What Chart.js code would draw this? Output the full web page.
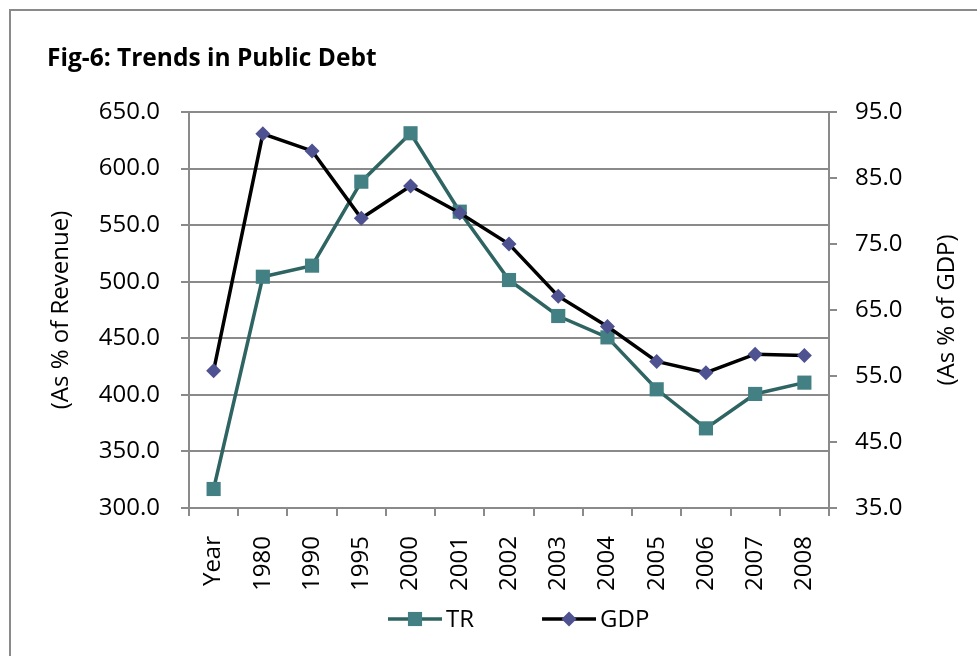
<!DOCTYPE html>
<html>
<head>
<meta charset="utf-8">
<title>Trends in Public Debt</title>
<script src="https://cdn.jsdelivr.net/npm/chart.js@4.4.1/dist/chart.umd.min.js"></script>
<style>
  html, body { margin: 0; padding: 0; background: #fff; overflow: hidden; }
  #wrap { position: relative; width: 977px; height: 656px; overflow: hidden; }
  #frame {
    position: absolute; left: 9px; top: 9px; width: 1000px; height: 700px;
    border-left: 2px solid #8a8a8a; border-top: 2px solid #8a8a8a;
  }
  #chart-debt { position: absolute; left: 0; top: 0; }
</style>
</head>
<body>
<div id="wrap">
  <div id="frame"></div>
  <canvas id="chart-debt" width="977" height="656"></canvas>
</div>
<script>
// categories along the x axis
var years = ["Year", "1980", "1990", "1995", "2000", "2001", "2002", "2003", "2004", "2005", "2006", "2007", "2008"];

// debt as % of revenue (left axis)
var trValues = [316.8, 504.4, 514.2, 588.4, 631.2, 561.9, 501.5, 469.7, 450.8, 404.9, 370.4, 400.8, 410.8];

// debt as % of GDP (right axis)
var gdpValues = [55.8, 91.7, 89.1, 78.9, 83.8, 79.7, 75.0, 67.1, 62.5, 57.2, 55.5, 58.3, 58.1];

// axis tick values
var revenueTicks = [300, 350, 400, 450, 500, 550, 600, 650];
var gdpTicks = [35, 45, 55, 65, 75, 85, 95];

var GRID = "#8a8a8a";
var tickFont = { family: "Open Sans", size: 24 };

// legend drawn as a line segment with the marker in the middle, like the series,
// plus the right axis title, which reads bottom-to-top like the left one
var lineLegend = {
  id: "lineLegend",
  afterDraw: function (chart) {
    var ctx = chart.ctx;
    var area = chart.chartArea;
    var x = area.left + 199;
    var y = area.bottom + 111;
    ctx.save();
    ctx.font = '24px "Open Sans"';
    ctx.textBaseline = "middle";
    ctx.textAlign = "left";
    chart.data.datasets.forEach(function (ds) {
      ctx.strokeStyle = ds.borderColor;
      ctx.lineWidth = ds.borderWidth;
      ctx.beginPath();
      ctx.moveTo(x, y);
      ctx.lineTo(x + 54, y);
      ctx.stroke();
      ctx.fillStyle = ds.pointBackgroundColor;
      Chart.helpers.drawPoint(ctx, {
        pointStyle: ds.pointStyle,
        radius: ds.pointRadius,
        borderWidth: 0,
        rotation: 0,
      }, x + 27, y);
      ctx.fillStyle = "#000";
      ctx.fillText(ds.label, x + 58, y + 1);
      x += 58 + ctx.measureText(ds.label).width + 68;
    });

    ctx.translate(area.right + 118, (area.top + area.bottom) / 2);
    ctx.rotate(-Math.PI / 2);
    ctx.textAlign = "center";
    ctx.fillText("(As % of GDP)", 0, 0);
    ctx.restore();
  },
};

var ctx1 = document.getElementById("chart-debt").getContext("2d");

new Chart(ctx1, {
  type: "line",
  data: {
    labels: years,
    datasets: [
      {
        label: "TR",
        data: trValues,
        yAxisID: "y",
        borderColor: "#2e6461",
        borderWidth: 3.5,
        tension: 0,
        pointStyle: "rect",
        pointRadius: 10,
        pointHoverRadius: 10,
        pointBackgroundColor: "#428084",
        pointBorderColor: "#428084",
        pointBorderWidth: 0,
        order: 2,
      },
      {
        label: "GDP",
        data: gdpValues,
        yAxisID: "y1",
        borderColor: "#000000",
        borderWidth: 3.5,
        tension: 0,
        pointStyle: "rectRot",
        pointRadius: 7.5,
        pointHoverRadius: 7.5,
        pointBackgroundColor: "#4e5290",
        pointBorderColor: "#4e5290",
        pointBorderWidth: 0,
        order: 1,
      },
    ],
  },
  options: {
    responsive: false,
    animation: false,
    layout: {
      padding: { left: 47, right: 16, top: 0, bottom: 0 },
    },
    plugins: {
      legend: { display: false },
      tooltip: { enabled: false },
      title: {
        display: true,
        text: "Fig-6: Trends in Public Debt",
        align: "start",
        color: "#000",
        font: { family: "Open Sans", size: 24.5, weight: "bold", lineHeight: 1.2 },
        padding: { top: 44, bottom: 38.6 },
      },
    },
    scales: {
      x: {
        offset: true,
        grid: {
          offset: true,
          drawOnChartArea: false,
          drawTicks: true,
          tickLength: 8,
          color: GRID,
          lineWidth: 2,
        },
        border: { display: true, color: GRID, width: 2 },
        ticks: {
          autoSkip: false,
          minRotation: 90,
          maxRotation: 90,
          padding: 20,
          color: "#000",
          font: tickFont,
        },
        afterFit: function (scale) {
          scale.height = 148;
        },
      },
      y: {
        position: "left",
        min: 300,
        max: 650,
        afterBuildTicks: function (scale) {
          scale.ticks = revenueTicks.map(function (v) { return { value: v }; });
        },
        ticks: {
          padding: 21,
          color: "#000",
          font: tickFont,
          callback: function (v) { return Number(v).toFixed(1); },
        },
        grid: { color: GRID, lineWidth: 2, tickLength: 8 },
        border: { display: true, color: GRID, width: 2 },
        title: {
          display: true,
          text: "(As % of Revenue)",
          color: "#000",
          padding: 0,
          font: tickFont,
        },
        afterFit: function (scale) {
          scale.width = 142;
        },
      },
      y1: {
        position: "right",
        min: 35,
        max: 95,
        afterBuildTicks: function (scale) {
          scale.ticks = gdpTicks.map(function (v) { return { value: v }; });
        },
        ticks: {
          padding: 18,
          color: "#000",
          font: tickFont,
          callback: function (v) { return Number(v).toFixed(1); },
        },
        grid: { drawOnChartArea: false, color: GRID, lineWidth: 2, tickLength: 8 },
        border: { display: true, color: GRID, width: 2 },
        afterFit: function (scale) {
          scale.width = 132;
        },
      },
    },
  },
  plugins: [lineLegend],
});
</script>
</body>
</html>
